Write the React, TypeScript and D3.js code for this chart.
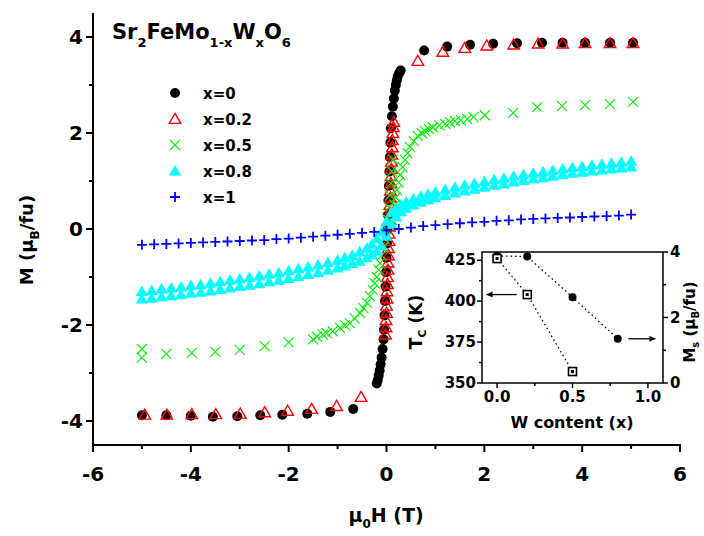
import React from "react";
import * as d3 from "d3";

// ---------- data ----------
type P = [number, number];
const seriesNames = ["x=0", "x=0.2", "x=0.5", "x=0.8", "x=1"];

const x0: P[] = [
  [-5, -3.88], [-4.5, -3.88], [-4, -3.89], [-3.55, -3.91], [-3.05, -3.9], [-2.58, -3.88], [-2.13, -3.87], [-1.62, -3.85], [-1.15, -3.81], [-0.68, -3.75],
  [-0.2, -3.22], [-0.18, -3.15], [-0.16, -3.05], [-0.14, -2.95], [-0.12, -2.82], [-0.1, -2.68], [-0.08, -2.5], [-0.06, -2.3], [-0.05, -2.1], [-0.04, -1.8],
  [-0.03, -1.5], [-0.02, -1.2], [-0.01, -0.9], [0, -0.6], [0.01, -0.3], [0.02, 0], [0.03, 0.3], [0.04, 0.6], [0.05, 0.9], [0.06, 1.2], [0.07, 1.5],
  [0.08, 1.8], [0.09, 2.1], [0.11, 2.35], [0.13, 2.55], [0.15, 2.72], [0.17, 2.88], [0.19, 3.0], [0.21, 3.1], [0.23, 3.18], [0.26, 3.25], [0.29, 3.3],
  [0.77, 3.72], [1.24, 3.8], [1.71, 3.84], [2.18, 3.86], [2.67, 3.87], [3.18, 3.88], [3.6, 3.88], [4.06, 3.88], [4.57, 3.88], [5.04, 3.88],
];

const x02: P[] = [
  [-4.94, -3.87], [-4.49, -3.87], [-3.98, -3.86], [-3.49, -3.86], [-2.99, -3.85], [-2.49, -3.82], [-2.02, -3.79], [-1.53, -3.75], [-1.02, -3.69], [-0.52, -3.5],
  [-0.02, -2.2], [-0.01, -2.05], [-0.01, -1.9], [0.0, -1.75], [0.0, -1.6], [0.01, -1.45], [0.01, -1.3], [0.02, -1.15], [0.02, -1.0], [0.03, -0.85],
  [0.03, -0.7], [0.04, -0.55], [0.04, -0.4], [0.05, -0.25], [0.05, -0.1], [0.06, 0.05], [0.06, 0.2], [0.07, 0.35], [0.07, 0.5], [0.08, 0.65],
  [0.08, 0.8], [0.09, 0.95], [0.09, 1.1], [0.1, 1.25], [0.1, 1.4], [0.11, 1.55], [0.12, 1.7], [0.12, 1.85], [0.13, 2.0], [0.14, 2.12], [0.15, 2.23],
  [0.64, 3.5], [1.15, 3.69], [1.6, 3.77], [2.05, 3.82], [2.6, 3.84], [3.1, 3.86], [3.6, 3.86], [4.06, 3.87], [4.57, 3.87], [5.04, 3.87],
];

const x05: P[] = [
  [-5, -2.5], [-5, -2.68], [-4.5, -2.6], [-3.98, -2.58], [-3.5, -2.56], [-3.0, -2.52], [-2.49, -2.44], [-2.0, -2.36], [-1.5, -2.3], [-1.42, -2.24],
  [-1.3, -2.2], [-1.22, -2.17], [-1.1, -2.13], [-0.95, -2.06], [-0.85, -2.01], [-0.75, -1.96], [-0.65, -1.86], [-0.54, -1.75], [-0.47, -1.65], [-0.4, -1.54],
  [-0.34, -1.4], [-0.28, -1.27], [-0.24, -1.13], [-0.2, -1.0], [-0.16, -0.85], [-0.13, -0.71], [-0.1, -0.55], [-0.07, -0.38], [-0.04, -0.2], [-0.01, 0.0],
  [0.02, 0.2], [0.05, 0.45], [0.07, 0.7], [0.09, 0.95], [0.11, 1.2], [0.13, 1.45],
  [0.11, 0.19], [0.14, 0.35], [0.17, 0.5], [0.19, 0.66], [0.21, 0.81], [0.25, 0.97], [0.28, 1.13], [0.33, 1.29], [0.38, 1.44], [0.43, 1.58],
  [0.48, 1.71], [0.56, 1.83], [0.64, 1.94], [0.72, 2.0], [0.79, 2.04], [0.87, 2.08], [0.95, 2.12], [1.08, 2.16], [1.2, 2.19], [1.3, 2.22],
  [1.4, 2.25], [1.52, 2.27], [1.65, 2.29], [1.78, 2.33],
  [2.01, 2.37], [2.59, 2.42], [3.08, 2.54], [3.59, 2.56], [4.06, 2.58], [4.57, 2.6], [5.04, 2.65],
];

const x08Up: P[] = [
  [-5, -1.46], [-4.8, -1.44], [-4.6, -1.41], [-4.4, -1.39], [-4.2, -1.37], [-4.0, -1.34], [-3.8, -1.32], [-3.6, -1.29], [-3.4, -1.26], [-3.2, -1.23],
  [-3.0, -1.2], [-2.8, -1.17], [-2.6, -1.14], [-2.4, -1.1], [-2.2, -1.07], [-2.0, -1.03], [-1.8, -0.99], [-1.6, -0.95], [-1.4, -0.91], [-1.2, -0.86],
  [-1.0, -0.81], [-0.85, -0.77], [-0.7, -0.72], [-0.55, -0.67], [-0.4, -0.6], [-0.3, -0.54], [-0.2, -0.46], [-0.1, -0.35], [0, -0.15], [0.1, 0.1],
  [0.2, 0.25], [0.3, 0.36], [0.4, 0.43], [0.55, 0.5], [0.7, 0.56], [0.85, 0.61], [1.0, 0.65], [1.2, 0.7], [1.4, 0.75], [1.6, 0.79],
  [1.8, 0.83], [2.0, 0.87], [2.2, 0.91], [2.4, 0.94], [2.6, 0.98], [2.8, 1.01], [3.0, 1.04], [3.2, 1.07], [3.4, 1.1], [3.6, 1.13],
  [3.8, 1.16], [4.0, 1.18], [4.2, 1.21], [4.4, 1.23], [4.6, 1.25], [4.8, 1.27], [5.0, 1.29],
];

const x08Down: P[] = [
  [5.0, 1.41], [4.8, 1.39], [4.6, 1.37], [4.4, 1.35], [4.2, 1.33], [4.0, 1.3], [3.8, 1.28], [3.6, 1.25], [3.4, 1.22], [3.2, 1.19],
  [3.0, 1.16], [2.8, 1.13], [2.6, 1.1], [2.4, 1.06], [2.2, 1.03], [2.0, 0.99], [1.8, 0.95], [1.6, 0.91], [1.4, 0.87], [1.2, 0.82],
  [1.0, 0.77], [0.85, 0.73], [0.7, 0.68], [0.55, 0.63], [0.4, 0.56], [0.3, 0.5], [0.2, 0.43], [0.1, 0.35], [0, 0.15], [-0.1, -0.05],
  [-0.2, -0.2], [-0.3, -0.32], [-0.4, -0.4], [-0.55, -0.48], [-0.7, -0.55], [-0.85, -0.6], [-1.0, -0.65], [-1.2, -0.7], [-1.4, -0.75], [-1.6, -0.79],
  [-1.8, -0.83], [-2.0, -0.87], [-2.2, -0.91], [-2.4, -0.94], [-2.6, -0.98], [-2.8, -1.01], [-3.0, -1.04], [-3.2, -1.07], [-3.4, -1.1], [-3.6, -1.13],
  [-3.8, -1.16], [-4.0, -1.18], [-4.2, -1.21], [-4.4, -1.23], [-4.6, -1.25], [-4.8, -1.28], [-5.0, -1.3],
];

const x1: P[] = [
  [-5, -0.33], [-4.75, -0.32], [-4.5, -0.31], [-4.25, -0.3], [-4, -0.29], [-3.75, -0.28], [-3.5, -0.27], [-3.25, -0.26], [-3, -0.25], [-2.75, -0.24],
  [-2.5, -0.23], [-2.25, -0.21], [-2, -0.2], [-1.75, -0.18], [-1.5, -0.16], [-1.25, -0.14], [-1, -0.12], [-0.75, -0.1], [-0.5, -0.08], [-0.25, -0.06],
  [0, -0.03], [0.25, 0.0], [0.5, 0.03], [0.75, 0.06], [1, 0.08], [1.25, 0.1], [1.5, 0.12], [1.75, 0.14], [2, 0.15], [2.25, 0.17],
  [2.5, 0.18], [2.75, 0.2], [3, 0.21], [3.25, 0.22], [3.5, 0.23], [3.75, 0.24], [4, 0.25], [4.25, 0.26], [4.5, 0.27], [4.75, 0.28], [5, 0.3],
];

const xTicks = [-6, -4, -2, 0, 2, 4, 6];
const xMinor = [-5, -3, -1, 1, 3, 5];
const yTicks = [-4, -2, 0, 2, 4];
const yMinor = [-3, -1, 1, 3];

// inset
const wContent = [0, 0.2, 0.5, 0.8];
const msValues = [3.88, 3.86, 2.62, 1.35];
const tcContent = [0, 0.2, 0.5];
const tcValues = [426, 404, 357];
const insetXTicks = [0, 0.5, 1.0];
const insetXMinor = [0.25, 0.75];
const insetTcTicks = [350, 375, 400, 425];
const insetTcMinor = [362.5, 387.5, 412.5];
const insetMsTicks = [0, 2, 4];
const insetMsMinor = [1, 3];

const FONT = "DejaVu Sans, Liberation Sans, Arial, sans-serif";

export default function App() {
  const x = d3.scaleLinear().domain([-6, 6]).range([93, 680]);
  const y = d3.scaleLinear().domain([-4.5, 4.5]).range([445, 13]);

  const ix = d3.scaleLinear().domain([-0.1, 1.1]).range([482, 663]);
  const iyT = d3.scaleLinear().domain([350, 430]).range([383, 252]);
  const iyM = d3.scaleLinear().domain([0, 4]).range([383, 252]);

  const tri = d3.symbol().type(d3.symbolTriangle).size(64)()!;
  const triSmall = d3.symbol().type(d3.symbolTriangle).size(58)()!;

  const circle = (cx: number, cy: number, k: string | number) => (
    <circle key={k} cx={cx} cy={cy} r={5} fill="#000" />
  );
  const redTri = (cx: number, cy: number, k: string | number) => (
    <path key={k} d={triSmall} transform={`translate(${cx},${cy + 1})`} fill="none" stroke="#ff0000" strokeWidth={1.4} />
  );
  const greenX = (cx: number, cy: number, k: string | number) => (
    <path key={k} d={`M${cx - 5},${cy - 5}L${cx + 5},${cy + 5}M${cx - 5},${cy + 5}L${cx + 5},${cy - 5}`} stroke="#00ee00" strokeWidth={1.1} fill="none" />
  );
  const cyanTri = (cx: number, cy: number, k: string | number) => (
    <path key={k} d={tri} transform={`translate(${cx},${cy + 1})`} fill="#00ffff" />
  );
  const bluePlus = (cx: number, cy: number, k: string | number) => (
    <path key={k} d={`M${cx - 5},${cy}L${cx + 5},${cy}M${cx},${cy - 5}L${cx},${cy + 5}`} stroke="#0000ff" strokeWidth={1.8} fill="none" />
  );

  const markers = [circle, redTri, greenX, cyanTri, bluePlus];
  const legendY = [93, 119, 145, 171, 197];

  const tcLine = d3.line<number>().x((_, i) => ix(tcContent[i])).y((d) => iyT(d));
  const msLine = d3.line<number>().x((_, i) => ix(wContent[i])).y((d) => iyM(d));

  return (
    <svg width={704} height={536} style={{ position: "absolute", left: 0, top: 0, background: "#fff" }} fontFamily={FONT}>
      <rect x={0} y={0} width={704} height={536} fill="#fff" />
      {/* data */}
      <g>
        {x0.map((d, i) => circle(x(d[0]), y(d[1]), "b" + i))}
        {x02.map((d, i) => redTri(x(d[0]), y(d[1]), "r" + i))}
        {x05.map((d, i) => greenX(x(d[0]), y(d[1]), "g" + i))}
        {x08Up.map((d, i) => cyanTri(x(d[0]), y(d[1]), "cu" + i))}
        {x08Down.map((d, i) => cyanTri(x(d[0]), y(d[1]), "cd" + i))}
        {x1.map((d, i) => bluePlus(x(d[0]), y(d[1]), "p" + i))}
      </g>

      {/* axes */}
      <line x1={93} x2={93} y1={13} y2={446} stroke="#000" strokeWidth={2} />
      <line x1={92} x2={681} y1={445} y2={445} stroke="#000" strokeWidth={2} />
      {xTicks.map((t) => (
        <g key={"xt" + t}>
          <line x1={x(t)} x2={x(t)} y1={445} y2={452} stroke="#000" strokeWidth={2} />
          <text x={x(t)} y={481} textAnchor="middle" fontSize={20} fontWeight="bold">{t}</text>
        </g>
      ))}
      {xMinor.map((t) => (
        <line key={"xm" + t} x1={x(t)} x2={x(t)} y1={445} y2={449} stroke="#000" strokeWidth={2} />
      ))}
      {yTicks.map((t) => (
        <g key={"yt" + t}>
          <line x1={86} x2={93} y1={y(t)} y2={y(t)} stroke="#000" strokeWidth={2} />
          <text x={83} y={y(t) + 7} textAnchor="end" fontSize={20} fontWeight="bold">{t}</text>
        </g>
      ))}
      {yMinor.map((t) => (
        <line key={"ym" + t} x1={89} x2={93} y1={y(t)} y2={y(t)} stroke="#000" strokeWidth={2} />
      ))}

      {/* axis titles */}
      <text x={386} y={522} textAnchor="middle" fontSize={19} fontWeight="bold">
        μ<tspan fontSize={12} dy={6}>0</tspan><tspan dy={-6}>H (T)</tspan>
      </text>
      <text transform="translate(33,240) rotate(-90)" textAnchor="middle" fontSize={18} fontWeight="bold">
        M (μ<tspan fontSize={12} dy={6}>B</tspan><tspan dy={-6}>/fu)</tspan>
      </text>

      {/* title */}
      <text x={112} y={39} fontSize={21} fontWeight="bold">
        Sr<tspan fontSize={13} dy={8}>2</tspan>
        <tspan dy={-8}>FeMo</tspan>
        <tspan fontSize={13} dy={8}>1-x</tspan>
        <tspan dy={-8}>W</tspan>
        <tspan fontSize={13} dy={8}>x</tspan>
        <tspan dy={-8}>O</tspan>
        <tspan fontSize={13} dy={8}>6</tspan>
      </text>

      {/* legend */}
      {seriesNames.map((n, i) => (
        <g key={"lg" + n}>
          {markers[i](175, legendY[i], "lm" + i)}
          <text x={203} y={legendY[i] + 6} fontSize={15} fontWeight="bold">{n}</text>
        </g>
      ))}

      {/* inset */}
      <g>
        <rect x={482} y={252} width={181} height={131} fill="#fff" stroke="#000" strokeWidth={1.5} />
        <path d={tcLine(tcValues)!} fill="none" stroke="#000" strokeWidth={1.3} strokeDasharray="1.5,3" />
        <path d={msLine(msValues)!} fill="none" stroke="#000" strokeWidth={1.3} strokeDasharray="1.5,3" />
        {msValues.map((v, i) => (
          <circle key={"ims" + i} cx={ix(wContent[i])} cy={iyM(v)} r={4} fill="#000" />
        ))}
        {tcValues.map((v, i) => (
          <g key={"itc" + i}>
            <rect x={ix(tcContent[i]) - 4} y={iyT(v) - 4} width={8} height={8} fill="#fff" stroke="#000" strokeWidth={1.6} />
            <rect x={ix(tcContent[i]) - 1.5} y={iyT(v) - 1.5} width={3} height={3} fill="#000" />
          </g>
        ))}
        {/* arrows */}
        <line x1={ix(0.13)} x2={ix(-0.07)} y1={iyT(tcValues[1])} y2={iyT(tcValues[1])} stroke="#000" strokeWidth={1.3} />
        <path d={`M${ix(-0.07)},${iyT(tcValues[1])}l6,-3l0,6z`} fill="#000" />
        <line x1={ix(0.87)} x2={ix(1.05)} y1={iyM(msValues[3])} y2={iyM(msValues[3])} stroke="#000" strokeWidth={1.3} />
        <path d={`M${ix(1.05)},${iyM(msValues[3])}l-6,-3l0,6z`} fill="#000" />

        {insetXTicks.map((t) => (
          <g key={"ixt" + t}>
            <line x1={ix(t)} x2={ix(t)} y1={383} y2={388} stroke="#000" strokeWidth={1.5} />
            <text x={ix(t)} y={402} textAnchor="middle" fontSize={15} fontWeight="bold">{t.toFixed(1)}</text>
          </g>
        ))}
        {insetXMinor.map((t) => (
          <line key={"ixm" + t} x1={ix(t)} x2={ix(t)} y1={383} y2={386} stroke="#000" strokeWidth={1.5} />
        ))}
        {insetTcTicks.map((t) => (
          <g key={"itt" + t}>
            <line x1={477} x2={482} y1={iyT(t)} y2={iyT(t)} stroke="#000" strokeWidth={1.5} />
            <text x={476} y={iyT(t) + 5} textAnchor="end" fontSize={15} fontWeight="bold">{t}</text>
          </g>
        ))}
        {insetTcMinor.map((t) => (
          <line key={"itm" + t} x1={479} x2={482} y1={iyT(t)} y2={iyT(t)} stroke="#000" strokeWidth={1.5} />
        ))}
        {insetMsTicks.map((t) => (
          <g key={"imt" + t}>
            <line x1={663} x2={668} y1={iyM(t)} y2={iyM(t)} stroke="#000" strokeWidth={1.5} />
            <text x={670} y={iyM(t) + 5} fontSize={15} fontWeight="bold">{t}</text>
          </g>
        ))}
        {insetMsMinor.map((t) => (
          <line key={"imm" + t} x1={663} x2={666} y1={iyM(t)} y2={iyM(t)} stroke="#000" strokeWidth={1.5} />
        ))}
        <text x={572} y={428} textAnchor="middle" fontSize={16} fontWeight="bold">W content (x)</text>
        <text transform="translate(422,322) rotate(-90)" textAnchor="middle" fontSize={17} fontWeight="bold">
          T<tspan fontSize={11} dy={4}>C</tspan><tspan dy={-4}> (K)</tspan>
        </text>
        <text transform="translate(695,322) rotate(-90)" textAnchor="middle" fontSize={15} fontWeight="bold">
          M<tspan fontSize={10} dy={4}>s</tspan><tspan dy={-4}> (μ</tspan><tspan fontSize={10} dy={4}>B</tspan><tspan dy={-4}>/fu)</tspan>
        </text>
      </g>
    </svg>
  );
}
